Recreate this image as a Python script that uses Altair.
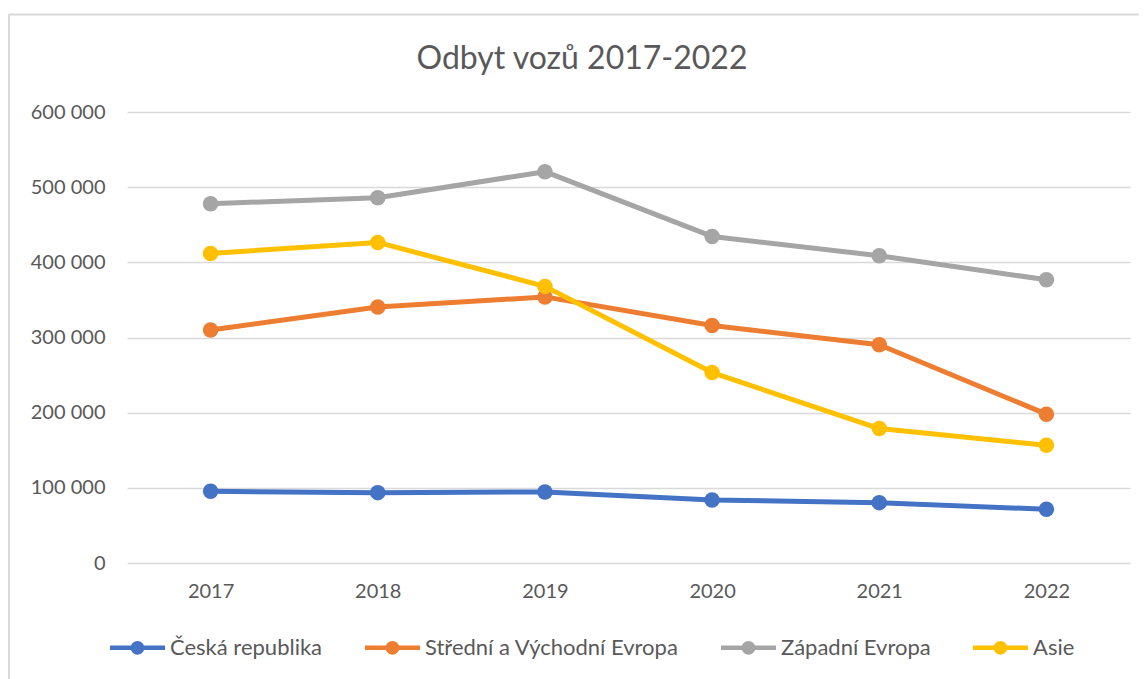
import altair as alt
import pandas as pd

years = ["2017", "2018", "2019", "2020", "2021", "2022"]
series_names = ["Česká republika", "Střední a Východní Evropa", "Západní Evropa", "Asie"]
ceska_republika = [95400, 93600, 94500, 83900, 80300, 71500]
stredni_vychodni = [310000, 340500, 354000, 316000, 290300, 198000]
zapadni = [478000, 486000, 520600, 434500, 408800, 376800]
asie = [411800, 426500, 368000, 253400, 178800, 156700]
colors = ["#4472C4", "#ED7D31", "#A5A5A5", "#FFC000"]
y_ticks = [0, 100000, 200000, 300000, 400000, 500000, 600000]
title_text = "Odbyt vozů 2017-2022"

rows = []
for name, vals in zip(series_names, [ceska_republika, stredni_vychodni, zapadni, asie]):
    for yr, v in zip(years, vals):
        rows.append({"rok": yr, "serie": name, "serie_car": name, "hodnota": v,
                     "poradi": series_names.index(name)})
df = pd.DataFrame(rows)

FONT = "Lato"
TEXT = "#595959"

x_enc = alt.X("rok:N", sort=years, scale=alt.Scale(paddingInner=0, paddingOuter=0.5, domain=years),
              axis=alt.Axis(title=None, labelAngle=0, labelFont=FONT, labelFontSize=20, labelColor=TEXT,
                            labelPadding=18, ticks=False, domain=False, grid=False))
y_enc = alt.Y("hodnota:Q", scale=alt.Scale(domain=[0, 600000], nice=False),
              axis=alt.Axis(title=None, values=y_ticks, labelFont=FONT, labelFontSize=20, labelColor=TEXT,
                            labelPadding=22, ticks=False, domain=False, grid=True, gridColor="#D9D9D9",
                            gridWidth=1.5,
                            labelExpr="replace(format(datum.value, ','), regexp(',', 'g'), ' ')"))

sym_path = ("M-1,-0.085H1V0.085H-1Z "
            "M0.25,0A0.25,0.25,0,1,1,-0.25,0A0.25,0.25,0,1,1,0.25,0Z")

lines = alt.Chart(df).mark_line(strokeWidth=5, strokeCap="round", strokeJoin="round").encode(
    x=x_enc, y=y_enc,
    stroke=alt.Stroke("serie_car:N", sort=series_names, scale=alt.Scale(range=colors), legend=None),
    order=alt.Order("poradi:Q"),
)

points = alt.Chart(df).mark_point(filled=True, shape="circle", size=240, opacity=1).encode(
    x=x_enc, y=y_enc,
    fill=alt.Fill("serie:N", scale=alt.Scale(domain=series_names, range=colors),
                  legend=alt.Legend(title=None, orient="none", direction="horizontal", columns=4,
                                    legendX=-17, legendY=508,
                                    symbolType=sym_path, symbolSize=3025, symbolStrokeWidth=0,
                                    labelFont=FONT, labelFontSize=22, labelColor=TEXT,
                                    labelOffset=5, columnPadding=42, labelLimit=400)),
)

frame_df = pd.DataFrame({"a": [0]})
frame_left = alt.Chart(frame_df).mark_rule(color="#D9D9D9", strokeWidth=2).encode(
    x=alt.value(-118), y=alt.value(-98), y2=alt.value(700))
frame_top = alt.Chart(frame_df).mark_rule(color="#D9D9D9", strokeWidth=2).encode(
    x=alt.value(-118), x2=alt.value(1100), y=alt.value(-97.5))
title = alt.Chart(frame_df).mark_text(text=title_text, font=FONT, fontSize=32, color=TEXT,
                                      align="center", baseline="middle").encode(
    x=alt.value(455), y=alt.value(-53))

chart = alt.layer(frame_left, frame_top, title, lines, points).properties(
    width=1003, height=451,
    autosize=alt.AutoSizeParams(type="none"),
    padding={"left": 119, "top": 104, "right": 9, "bottom": 116},
).configure(background="white").configure_view(stroke=None, strokeWidth=0)

chart.save("out.html", embed_options={"renderer": "svg", "actions": False})
